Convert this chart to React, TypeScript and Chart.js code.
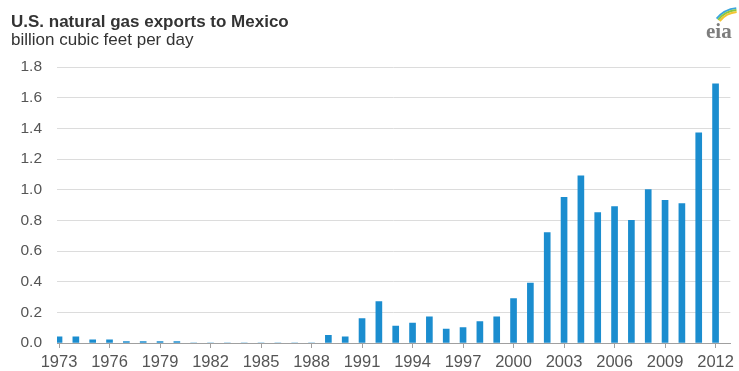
import React, { useEffect, useRef } from "react";
import { Chart, registerables } from "chart.js";

Chart.register(...registerables);

const titleText = "U.S. natural gas exports to Mexico";
const subtitleText = "billion cubic feet per day";

const years = [
  1973, 1974, 1975, 1976, 1977, 1978, 1979, 1980, 1981, 1982,
  1983, 1984, 1985, 1986, 1987, 1988, 1989, 1990, 1991, 1992,
  1993, 1994, 1995, 1996, 1997, 1998, 1999, 2000, 2001, 2002,
  2003, 2004, 2005, 2006, 2007, 2008, 2009, 2010, 2011, 2012,
];

const exportsBcfd = [
  0.04, 0.04, 0.02, 0.02, 0.01, 0.01, 0.01, 0.01, 0.0, 0.0,
  0.0, 0.0, 0.0, 0.0, 0.0, 0.0, 0.05, 0.04, 0.16, 0.27,
  0.11, 0.13, 0.17, 0.09, 0.1, 0.14, 0.17, 0.29, 0.39, 0.72,
  0.95, 1.09, 0.85, 0.89, 0.8, 1.0, 0.93, 0.91, 1.37, 1.69,
];

const xTickYears = [1973, 1976, 1979, 1982, 1985, 1988, 1991, 1994, 1997, 2000, 2003, 2006, 2009, 2012];
const yTickValues = [0, 0.2, 0.4, 0.6, 0.8, 1.0, 1.2, 1.4, 1.6, 1.8];

const FONT = "'Liberation Sans', Arial, sans-serif";

const headerPlugin = {
  id: "header",
  afterDraw(chart: any) {
    const ctx = chart.ctx as CanvasRenderingContext2D;
    ctx.save();
    ctx.fillStyle = "#333333";
    ctx.textBaseline = "alphabetic";
    ctx.textAlign = "left";
    ctx.font = `bold 17px ${FONT}`;
    ctx.fillText(titleText, 11, 27);
    ctx.font = `17px ${FONT}`;
    ctx.fillText(subtitleText, 11, 45);

    // eia logo
    ctx.font = `bold 21px 'Liberation Serif', serif`;
    ctx.fillStyle = "#7d7d7d";
    ctx.fillText("eia", 706, 38);
    const arcs = [
      { c: "#3aa6dc", r: 29 },
      { c: "#8cc63f", r: 27 },
      { c: "#f2c530", r: 25 },
    ];
    arcs.forEach((a) => {
      ctx.beginPath();
      ctx.strokeStyle = a.c;
      ctx.lineWidth = 2;
      ctx.arc(739, 37, a.r, Math.PI * 1.22, Math.PI * 1.47);
      ctx.stroke();
    });
    ctx.restore();
  },
};

export default function App() {
  const ref = useRef<HTMLCanvasElement | null>(null);

  useEffect(() => {
    if (!ref.current) return;
    const chart = new Chart(ref.current, {
      type: "bar",
      data: {
        datasets: [
          {
            data: years.map((y, i) => ({ x: y, y: exportsBcfd[i] })),
            backgroundColor: "#1b8dcf",
            borderWidth: 0,
            barThickness: 6,
          },
        ],
      },
      options: {
        animation: false,
        responsive: false,
        maintainAspectRatio: false,
        layout: { padding: { top: 67, right: 4, left: 0, bottom: 0 } },
        plugins: {
          legend: { display: false },
          tooltip: { enabled: false },
          title: { display: false },
        },
        scales: {
          x: {
            type: "linear",
            offset: false,
            min: 1972.88,
            max: 2012.88,
            afterBuildTicks: (scale: any) => {
              scale.ticks = xTickYears.map((v) => ({ value: v }));
            },
            afterFit: (scale: any) => {
              scale.height = 28;
            },
            grid: {
              display: true,
              offset: false,
              drawOnChartArea: false,
              drawTicks: true,
              tickLength: 5,
              color: "#a0a0a0",
            },
            border: { display: true, color: "#a0a0a0", width: 1 },
            ticks: {
              autoSkip: false,
              maxRotation: 0,
              minRotation: 0,
              padding: 5,
              color: "#555555",
              font: { family: FONT, size: 16.5 },
              callback: (v: any) => String(v),
            },
          },
          y: {
            min: 0,
            max: 1.8,
            afterBuildTicks: (scale: any) => {
              scale.ticks = yTickValues.map((v) => ({ value: v }));
            },
            afterFit: (scale: any) => {
              scale.width = 57;
            },
            grid: {
              color: "#dcdcdc",
              lineWidth: 1,
              drawTicks: false,
            },
            border: { display: false },
            ticks: {
              padding: 15,
              color: "#555555",
              font: { family: FONT, size: 15.5 },
              callback: (v: any) => Number(v).toFixed(1),
            },
          },
        },
      },
      plugins: [headerPlugin],
    });
    return () => chart.destroy();
  }, []);

  return (
    <div style={{ position: "fixed", left: 0, top: 0, width: 739, height: 371, background: "#ffffff" }}>
      <canvas ref={ref} width={739} height={371} style={{ display: "block", width: 739, height: 371 }} />
    </div>
  );
}
